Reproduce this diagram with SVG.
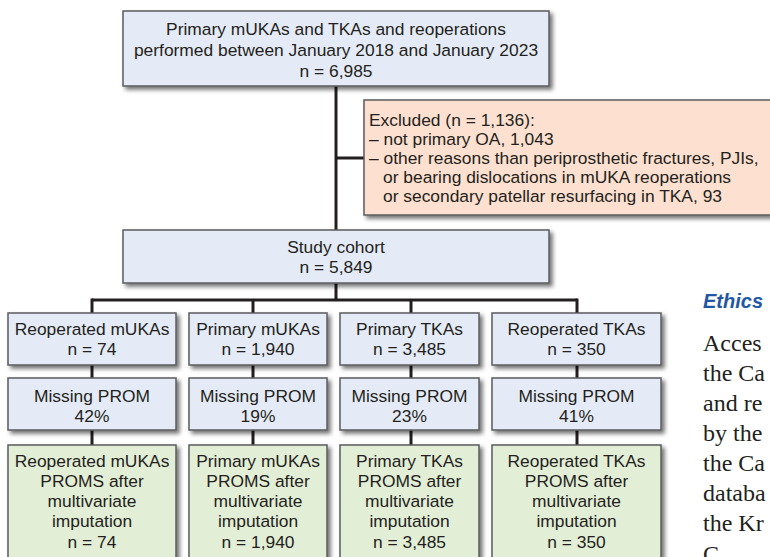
<svg xmlns="http://www.w3.org/2000/svg" width="770" height="557" viewBox="0 0 770 557">
<defs>
<filter id="sh" x="-10%" y="-10%" width="130%" height="140%">
<feDropShadow dx="3" dy="3" stdDeviation="2" flood-color="#000" flood-opacity="0.55"/>
</filter>
<style>
.box{stroke:#5a5b5e;stroke-width:1.5;filter:url(#sh)}
.blue{fill:#e5ebf6}
.peach{fill:#fde0cf}
.green{fill:#e3eed7}
.t{font-family:"Liberation Sans",Arial,sans-serif;font-size:17.4px;fill:#231f20}
.c{text-anchor:middle}
.ln{stroke:#231f20;stroke-width:3;fill:none}
.body{font-family:"Liberation Serif","Times New Roman",serif;font-size:24px;fill:#231f20}
.head{font-family:"Liberation Sans",Arial,sans-serif;font-size:20px;font-weight:bold;font-style:italic;fill:#1f57a6}
</style>
</defs>
<rect width="770" height="557" fill="#ffffff"/>

<g id="connectors">
<line class="ln" x1="336" y1="86" x2="336" y2="230"/>
<line class="ln" x1="336" y1="158" x2="364" y2="158"/>
<line class="ln" x1="336" y1="283" x2="336" y2="300"/>
<line class="ln" x1="92" y1="300" x2="577" y2="300"/>
<line class="ln" x1="92" y1="298.5" x2="92" y2="313"/>
<line class="ln" x1="253" y1="300" x2="253" y2="313"/>
<line class="ln" x1="411" y1="300" x2="411" y2="313"/>
<line class="ln" x1="577" y1="298.5" x2="577" y2="313"/>
<line class="ln" x1="92" y1="365" x2="92" y2="378"/>
<line class="ln" x1="253" y1="365" x2="253" y2="378"/>
<line class="ln" x1="411" y1="365" x2="411" y2="378"/>
<line class="ln" x1="577" y1="365" x2="577" y2="378"/>
<line class="ln" x1="92" y1="430" x2="92" y2="445"/>
<line class="ln" x1="253" y1="430" x2="253" y2="445"/>
<line class="ln" x1="411" y1="430" x2="411" y2="445"/>
<line class="ln" x1="577" y1="430" x2="577" y2="445"/>
</g>

<g id="top">
<rect class="box blue" x="123" y="11" width="426" height="75"/>
<text class="t c" x="336" y="35">Primary mUKAs and TKAs and reoperations</text>
<text class="t c" x="336" y="56">performed between January 2018 and January 2023</text>
<text class="t c" x="336" y="77">n = 6,985</text>
</g>

<g id="excluded">
<rect class="box peach" x="364" y="100" width="420" height="115"/>
<text class="t" x="369" y="126">Excluded (n = 1,136):</text>
<text class="t" x="369" y="145">– not primary OA, 1,043</text>
<text class="t" x="369" y="164">– other reasons than periprosthetic fractures, PJIs,</text>
<text class="t" x="383" y="183">or bearing dislocations in mUKA reoperations</text>
<text class="t" x="383" y="202">or secondary patellar resurfacing in TKA, 93</text>
</g>

<g id="cohort">
<rect class="box blue" x="123" y="230" width="426" height="53"/>
<text class="t c" x="336" y="253">Study cohort</text>
<text class="t c" x="336" y="273">n = 5,849</text>
</g>

<g id="reop-muka">
<rect class="box blue" x="8" y="313" width="168" height="52"/>
<text class="t c" x="92" y="335">Reoperated mUKAs</text>
<text class="t c" x="92" y="355">n = 74</text>
</g>
<g id="prim-muka">
<rect class="box blue" x="189" y="313" width="138" height="52"/>
<text class="t c" x="258" y="335">Primary mUKAs</text>
<text class="t c" x="258" y="355">n = 1,940</text>
</g>
<g id="prim-tka">
<rect class="box blue" x="340" y="313" width="139" height="52"/>
<text class="t c" x="409.5" y="335">Primary TKAs</text>
<text class="t c" x="409.5" y="355">n = 3,485</text>
</g>
<g id="reop-tka">
<rect class="box blue" x="492" y="313" width="169" height="52"/>
<text class="t c" x="576.5" y="335">Reoperated TKAs</text>
<text class="t c" x="576.5" y="355">n = 350</text>
</g>

<g id="miss-1">
<rect class="box blue" x="8" y="378" width="168" height="52"/>
<text class="t c" x="92" y="402">Missing PROM</text>
<text class="t c" x="92" y="422">42%</text>
</g>
<g id="miss-2">
<rect class="box blue" x="189" y="378" width="138" height="52"/>
<text class="t c" x="258" y="402">Missing PROM</text>
<text class="t c" x="258" y="422">19%</text>
</g>
<g id="miss-3">
<rect class="box blue" x="340" y="378" width="139" height="52"/>
<text class="t c" x="409.5" y="402">Missing PROM</text>
<text class="t c" x="409.5" y="422">23%</text>
</g>
<g id="miss-4">
<rect class="box blue" x="492" y="378" width="169" height="52"/>
<text class="t c" x="576.5" y="402">Missing PROM</text>
<text class="t c" x="576.5" y="422">41%</text>
</g>

<g id="imp-1">
<rect class="box green" x="8" y="445" width="168" height="125"/>
<text class="t c" x="92" y="467">Reoperated mUKAs</text>
<text class="t c" x="92" y="487">PROMS after</text>
<text class="t c" x="92" y="507">multivariate</text>
<text class="t c" x="92" y="527">imputation</text>
<text class="t c" x="92" y="548">n = 74</text>
</g>
<g id="imp-2">
<rect class="box green" x="189" y="445" width="138" height="125"/>
<text class="t c" x="258" y="467">Primary mUKAs</text>
<text class="t c" x="258" y="487">PROMS after</text>
<text class="t c" x="258" y="507">multivariate</text>
<text class="t c" x="258" y="527">imputation</text>
<text class="t c" x="258" y="548">n = 1,940</text>
</g>
<g id="imp-3">
<rect class="box green" x="340" y="445" width="139" height="125"/>
<text class="t c" x="409.5" y="467">Primary TKAs</text>
<text class="t c" x="409.5" y="487">PROMS after</text>
<text class="t c" x="409.5" y="507">multivariate</text>
<text class="t c" x="409.5" y="527">imputation</text>
<text class="t c" x="409.5" y="548">n = 3,485</text>
</g>
<g id="imp-4">
<rect class="box green" x="492" y="445" width="169" height="125"/>
<text class="t c" x="576.5" y="467">Reoperated TKAs</text>
<text class="t c" x="576.5" y="487">PROMS after</text>
<text class="t c" x="576.5" y="507">multivariate</text>
<text class="t c" x="576.5" y="527">imputation</text>
<text class="t c" x="576.5" y="548">n = 350</text>
</g>

<g id="page-text">
<text class="head" x="703" y="308">Ethics</text>
<text class="body" x="703" y="351">Acces</text>
<text class="body" x="703" y="381">the Ca</text>
<text class="body" x="703" y="411">and re</text>
<text class="body" x="703" y="441">by the</text>
<text class="body" x="703" y="471">the Ca</text>
<text class="body" x="703" y="501">databa</text>
<text class="body" x="703" y="531">the Kr</text>
<text class="body" x="703" y="562">C</text>
</g>
</svg>
